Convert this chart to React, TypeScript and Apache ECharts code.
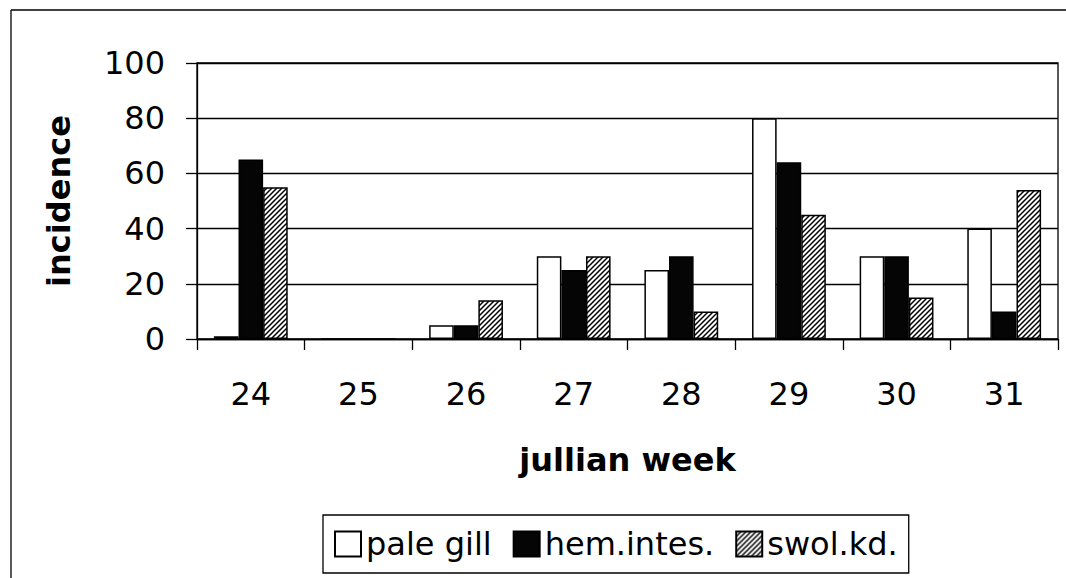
import React, { useEffect, useRef } from "react";
import * as echarts from "echarts";

const weeks = ["24", "25", "26", "27", "28", "29", "30", "31"];
const paleGill = [1, 0, 5, 30, 25, 80, 30, 40];
const hemIntes = [65, 0, 5, 25, 30, 64, 30, 10];
const swolKd = [55, 0, 14, 30, 10, 45, 15, 54];
const seriesNames = ["pale gill", "hem.intes.", "swol.kd."];
const yTicks = { min: 0, max: 100, interval: 20 };

const hatchSvg =
  "<svg xmlns='http://www.w3.org/2000/svg' width='5' height='5'>" +
  "<rect width='5' height='5' fill='white'/>" +
  "<path d='M-1,6 L6,-1 M-1,1 L1,-1 M4,6 L6,4' stroke='black' stroke-width='1.5'/></svg>";
const hatchUrl = "data:image/svg+xml;charset=utf-8," + encodeURIComponent(hatchSvg);

export default function App() {
  const ref = useRef<HTMLDivElement>(null);
  useEffect(() => {
    if (!ref.current) return;
    const chart = echarts.init(ref.current, null, { renderer: "svg" });
    const font = "DejaVu Sans";
    const hatch: any = {
      image: hatchUrl,
      repeat: "repeat",
      imageWidth: 5,
      imageHeight: 5,
    };
    const common = {
      type: "bar",
      barWidth: 24.6,
      barGap: "0%",
    };
    chart.setOption({
      animation: false,
      backgroundColor: "#fff",
      textStyle: { fontFamily: font, color: "#000" },
      graphic: [
        {
          type: "line",
          shape: { x1: 11, y1: 10, x2: 1066, y2: 10 },
          style: { stroke: "#000", lineWidth: 1.3 },
          silent: true,
        },
        {
          type: "line",
          shape: { x1: 11, y1: 10, x2: 11, y2: 578 },
          style: { stroke: "#000", lineWidth: 1.3 },
          silent: true,
        },
      ],
      grid: {
        left: 197,
        right: 8,
        top: 63,
        bottom: 239,
        show: true,
        borderColor: "#000",
        borderWidth: 1.3,
        backgroundColor: "transparent",
      },
      legend: {
        left: 323,
        top: 515,
        orient: "horizontal",
        itemWidth: 26,
        itemHeight: 25,
        itemGap: 21,
        padding: [13, 11, 13, 11],
        borderColor: "#000",
        borderWidth: 1.3,
        icon: "rect",
        textStyle: { fontFamily: font, fontSize: 32, color: "#000", padding: [0, 0, 0, 0] },
        data: seriesNames,
      },
      xAxis: {
        type: "category",
        data: weeks,
        name: "jullian week",
        nameLocation: "middle",
        nameGap: 105,
        nameTextStyle: { fontFamily: font, fontSize: 32, fontWeight: "bold", color: "#000" },
        axisLine: { show: true, lineStyle: { color: "#000", width: 1.3 } },
        axisTick: { show: true, length: 11, lineStyle: { color: "#000", width: 1.3 } },
        axisLabel: { fontFamily: font, fontSize: 32, color: "#000", margin: 39 },
      },
      yAxis: {
        type: "value",
        min: yTicks.min,
        max: yTicks.max,
        interval: yTicks.interval,
        name: "incidence",
        nameLocation: "middle",
        nameRotate: 90,
        nameGap: 122,
        nameTextStyle: { fontFamily: font, fontSize: 32, fontWeight: "bold", color: "#000" },
        axisLine: { show: true, lineStyle: { color: "#000", width: 1.3 } },
        axisTick: { show: true, length: 11, lineStyle: { color: "#000", width: 1.3 } },
        axisLabel: { fontFamily: font, fontSize: 32, color: "#000", margin: 32 },
        splitLine: { show: true, lineStyle: { color: "#000", width: 1.3 } },
      },
      series: [
        {
          ...common,
          name: seriesNames[0],
          data: paleGill,
          itemStyle: { color: "#fff", borderColor: "#000", borderWidth: 1.5 },
        },
        {
          ...common,
          name: seriesNames[1],
          data: hemIntes,
          itemStyle: { color: "#050505", borderColor: "#000", borderWidth: 1.5 },
        },
        {
          ...common,
          name: seriesNames[2],
          data: swolKd,
          itemStyle: { color: hatch, borderColor: "#000", borderWidth: 1.5 },
        },
      ],
    });
    return () => chart.dispose();
  }, []);
  return (
    <div
      ref={ref}
      style={{ position: "fixed", left: 0, top: 0, width: 1066, height: 578 }}
    />
  );
}
